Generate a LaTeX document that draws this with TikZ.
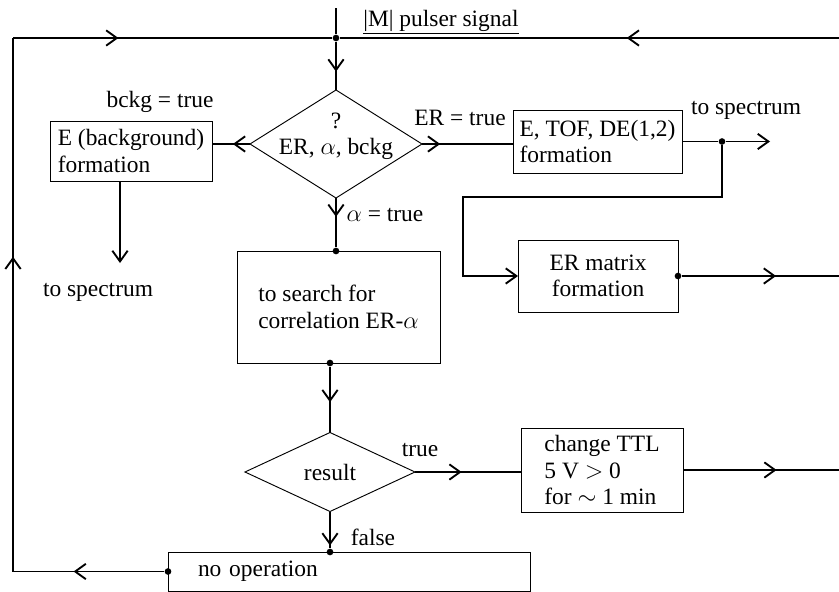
\documentclass[tikz,border=0pt]{standalone}
\usepackage{fontspec}
\setmainfont{Liberation Serif}
\usetikzlibrary{arrows.meta,decorations.markings,shapes.geometric}
\newcommand{\arrlen}{3.2mm}
\newcommand{\arrwid}{4.6mm}
\newcommand{\dotsz}{2mm}
\tikzset{
        blk/.style={draw, line width=0.8pt, inner sep=1mm, outer sep=0pt},
        dia/.style={draw, diamond, line width=0.8pt, inner sep=0pt, outer sep=0pt},
        lbl/.style={inner sep=0pt},
        wire/.style={line width=1pt},
        jdot/.style={circle, fill, inner sep=0pt, minimum size=\dotsz},
        marr/.style={postaction={decorate}, decoration={markings, mark=at position #1 with {\arrow{Straight Barb[length=\arrlen, width=\arrwid, line width=1.6pt]}}}},
        tip/.style={-{Straight Barb[length=\arrlen, width=\arrwid, line width=1.6pt]}}
}
\begin{document}
\begin{tikzpicture}[x=0.3mm, y=-0.3mm, font=\fontsize{20}{22.5}\selectfont]
        \useasboundingbox (0,0) rectangle (839,592);

        \node[blk, minimum width=48.6mm, minimum height=18mm, align=left] (bg) at (131,151) {E (background)\\formation};
        \node[blk, minimum width=50.7mm, minimum height=18.9mm, align=left] (etof) at (597.5,141.5) {E, TOF, DE(1,2)\\formation};
        \node[blk, minimum width=48mm, minimum height=21.6mm, align=center] (ermat) at (598,276) {ER matrix\\formation};
        \node[blk, minimum width=60.9mm, minimum height=33.6mm, align=left] (search) at (338.5,307) {to search for\\correlation ER-$\alpha$};
        \node[blk, minimum width=48.6mm, minimum height=25.2mm, align=left] (ttl) at (602,470) {change TTL\\5 V $>$ 0\\for $\sim$ 1 min};
        \node[blk, minimum height=11.7mm, text width=90.6mm, inner xsep=9mm, align=left] (noop) at (349,571.5) {no operation};

        \node[dia, minimum width=51.6mm, minimum height=32.4mm] (q) at (336,144) {};
        \node[lbl, align=center] (qtxt) at (336,136) {?\\ER, $\alpha$, bckg};
        \node[dia, minimum width=51mm, minimum height=23.7mm] (res) at (330,472) {result};

        \node[jdot] (j0) at (336,38) {};
        \node[jdot] (d1) at (722,141.5) {};
        \node[jdot] (d2) at (ermat.east) {};
        \node[jdot] (d3) at (res.north |- search.south) {};
        \node[jdot] (d4) at (res.south |- noop.north) {};
        \node[jdot] (d5) at (noop.west) {};
        \node[jdot] (d6) at (q.south |- search.north) {};

        \coordinate (in) at (336,8);
        \coordinate (tl) at (13,38);
        \coordinate (tr) at (839,38);
        \coordinate (bl) at (tl |- noop.west);
        \coordinate (sp1) at (120,263);
        \coordinate (sp2) at (770,141.5);
        \coordinate (k2) at (463,197);
        \coordinate (r1) at (839,276);
        \coordinate (r2) at (839,470);

        \draw[wire] (in) -- (j0);
        \draw[wire, marr=0.33] (tl) -- (j0);
        \draw[wire, marr=0.425] (tr) -- (j0);
        \draw[wire, marr=0.62] (j0) -- (q.north);
        \draw[wire, marr=0.45] (q.west) -- (q.west -| bg.east);
        \draw[wire, marr=0.2] (q.east) -- (q.east -| etof.west);
        \draw[wire, marr=0.38] (q.south) -- (d6);
        \draw[wire, tip] (bg.south -| sp1) -- (sp1);
        \draw[wire] (etof.east) -- (d1);
        \draw[wire, tip] (d1) -- (sp2);
        \draw[wire, tip] (d1) |- (k2) |- (ermat.west);
        \draw[wire, marr=0.6] (d2) -- (r1);
        \draw[wire, marr=0.54] (d3) -- (res.north);
        \draw[wire, marr=0.44] (res.east) -- (res.east -| ttl.west);
        \draw[wire, marr=0.6] (ttl.east) -- (r2);
        \draw[wire, marr=0.92] (res.south) -- (d4);
        \draw[wire, marr=0.6] (d5) -- (bl);
        \draw[wire, marr=0.59] (bl) -- (tl);

        \node[lbl] (lb-in) at (441,22) {\underline{|M| pulser signal}};
        \node[lbl] (lb-bckg) at (160,102) {bckg = true};
        \node[lbl] (lb-er) at (460,118) {ER = true};
        \node[lbl] (lb-alpha) at (385,215) {$\alpha$ = true};
        \node[lbl] (lb-sp2) at (746,110) {to spectrum};
        \node[lbl] (lb-sp1) at (98,292) {to spectrum};
        \node[lbl] (lb-true) at (420,450) {true};
        \node[lbl] (lb-false) at (373,537) {false};
\end{tikzpicture}
\end{document}
